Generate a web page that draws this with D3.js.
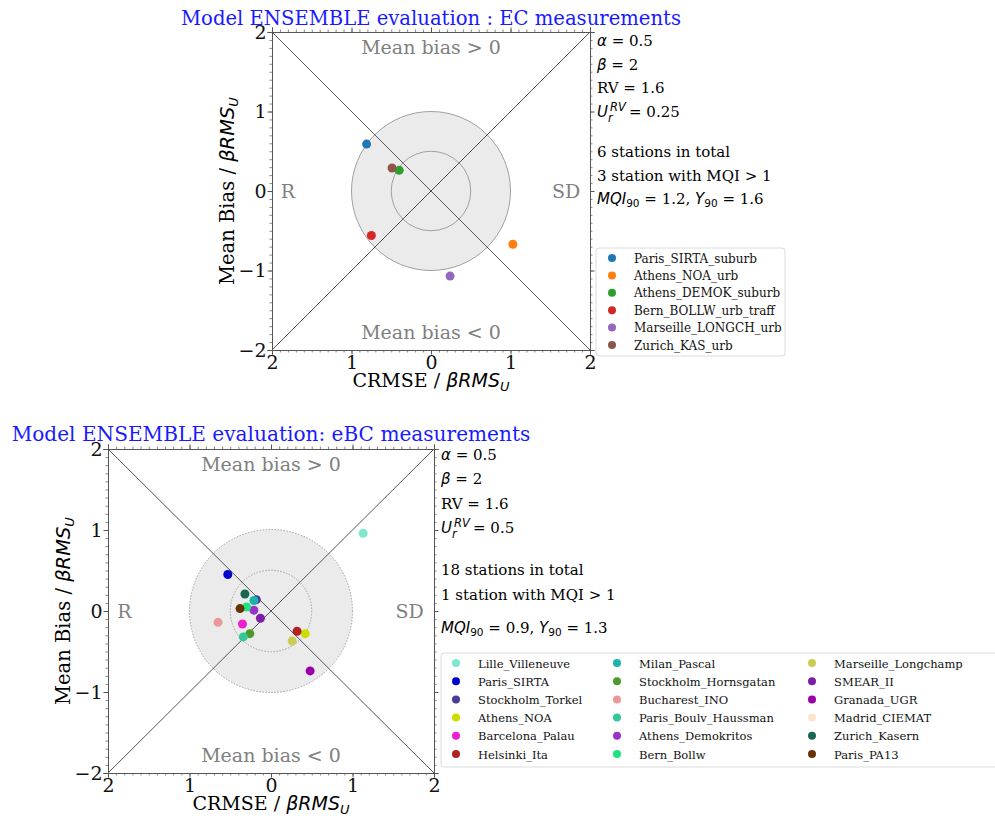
<!DOCTYPE html>
<html lang="en">
<head>
<meta charset="UTF-8">
<script src="https://cdn.jsdelivr.net/npm/d3@7"></script>
<style>
    body { margin: 0; background: #fff; }
    svg { display: block; }
    .serif { font-family: "DejaVu Serif", serif; }
</style>
</head>
<body>
<svg width="995" height="827"></svg>
<script>
// --- EC panel data
var ecStations = ["Paris_SIRTA_suburb", "Athens_NOA_urb", "Athens_DEMOK_suburb",
    "Bern_BOLLW_urb_traff", "Marseille_LONGCH_urb", "Zurich_KAS_urb"];
var ecColors = ["#1f77b4", "#ff7f0e", "#2ca02c", "#d62728", "#9467bd", "#8c564b"];
var ecX = [-0.81, 1.03, -0.40, -0.75, 0.24, -0.49];
var ecY = [0.59, -0.67, 0.26, -0.56, -1.07, 0.29];

// --- eBC panel data (Madrid_CIEMAT not visible in plot)
var ebcStations = ["Lille_Villeneuve", "Paris_SIRTA", "Stockholm_Torkel", "Athens_NOA",
    "Barcelona_Palau", "Helsinki_Ita", "Milan_Pascal", "Stockholm_Hornsgatan",
    "Bucharest_INO", "Paris_Boulv_Haussman", "Athens_Demokritos", "Bern_Bollw",
    "Marseille_Longchamp", "SMEAR_II", "Granada_UGR", "Madrid_CIEMAT",
    "Zurich_Kasern", "Paris_PA13"];
var ebcColors = ["#7fe8cc", "#0000cd", "#483d9b", "#ccdd00", "#ee1ed0", "#b22222",
    "#20b2aa", "#4c9a2a", "#e89a9a", "#33c898", "#9932cc", "#1de381",
    "#cccc55", "#7b1fa8", "#9900aa", "#ffe4cc", "#1a6650", "#663300"];
var ebcX = [1.13, -0.53, -0.18, 0.42, -0.35, 0.32, -0.21, -0.26, -0.65, -0.34,
    -0.21, -0.30, 0.26, -0.13, 0.48, null, -0.32, -0.38];
var ebcY = [0.96, 0.45, 0.14, -0.28, -0.16, -0.25, 0.13, -0.28, -0.14, -0.32,
    0.01, 0.05, -0.37, -0.09, -0.74, null, 0.21, 0.03];

var majorTicks = [-2, -1, 0, 1, 2];
var minorTicks = d3.range(-20, 21).map(function (d) { return d / 10; });

var svg = d3.select("svg");

// text with mixed serif / math pieces
function richText(g, x, y, parts, size) {
    var t = g.append("text").attr("x", x).attr("y", y)
        .attr("font-size", size).attr("class", "serif");
    parts.forEach(function (p) {
        var s = t.append("tspan").text(p.t);
        if (p.m) {
            s.attr("font-family", "DejaVu Sans").attr("font-style", "italic");
        }
        if (p.sub) {
            s.attr("font-family", "DejaVu Sans").attr("font-size", size * 0.7)
                .attr("dy", size * 0.22);
        }
        if (p.back) s.attr("dy", -size * 0.22);
    });
    return t;
}

function drawPanel(cfg) {
    var g = svg.append("g");
    var x = d3.scaleLinear().domain([-2, 2]).range([cfg.left, cfg.right]);
    var y = d3.scaleLinear().domain([-2, 2]).range([cfg.bottom, cfg.top]);

    // title
    g.append("text").attr("class", "serif")
        .attr("x", cfg.titleX).attr("y", cfg.titleY)
        .attr("text-anchor", "middle").attr("font-size", cfg.titleSize)
        .attr("fill", "#1a1aff").text(cfg.title);

    // target circles
    g.append("circle").attr("cx", x(0)).attr("cy", y(0))
        .attr("r", x(1) - x(0)).attr("fill", "#ebebeb")
        .attr("stroke", "#a0a0a0").attr("stroke-width", 1)
        .attr("stroke-dasharray", cfg.dashed ? "1.5,1.5" : null);
    g.append("circle").attr("cx", x(0)).attr("cy", y(0))
        .attr("r", x(0.5) - x(0)).attr("fill", "none")
        .attr("stroke", "#a0a0a0").attr("stroke-width", 1)
        .attr("stroke-dasharray", cfg.dashed ? "1.5,1.5" : null);

    // diagonals
    g.append("line").attr("x1", x(-2)).attr("y1", y(2)).attr("x2", x(2)).attr("y2", y(-2))
        .attr("stroke", "#555").attr("stroke-width", 1);
    g.append("line").attr("x1", x(-2)).attr("y1", y(-2)).attr("x2", x(2)).attr("y2", y(2))
        .attr("stroke", "#555").attr("stroke-width", 1);

    // region labels
    var gray = "#808080";
    g.append("text").attr("class", "serif").attr("x", x(0)).attr("y", y(2) + 22)
        .attr("text-anchor", "middle").attr("font-size", 19).attr("fill", gray).text("Mean bias > 0");
    g.append("text").attr("class", "serif").attr("x", x(0)).attr("y", y(-2) - 11)
        .attr("text-anchor", "middle").attr("font-size", 19).attr("fill", gray).text("Mean bias < 0");
    g.append("text").attr("class", "serif").attr("x", x(-1.8)).attr("y", y(0) + 7)
        .attr("text-anchor", "middle").attr("font-size", 19).attr("fill", gray).text("R");
    g.append("text").attr("class", "serif").attr("x", x(1.7)).attr("y", y(0) + 7)
        .attr("text-anchor", "middle").attr("font-size", 19).attr("fill", gray).text("SD");

    // points
    cfg.xs.forEach(function (v, i) {
        if (v === null) return;
        g.append("circle").attr("cx", x(v)).attr("cy", y(cfg.ys[i]))
            .attr("r", 4.5).attr("fill", cfg.colors[i]);
    });

    // axes with minor ticks
    var fmtAbs = function (d) { return Math.abs(d); };
    var axes = [
        {a: d3.axisBottom(x), t: "translate(0," + cfg.bottom + ")", lab: true, f: fmtAbs},
        {a: d3.axisTop(x), t: "translate(0," + cfg.top + ")"},
        {a: d3.axisLeft(y), t: "translate(" + cfg.left + ",0)", lab: true, f: d3.format("d")},
        {a: d3.axisRight(y), t: "translate(" + cfg.right + ",0)"}
    ];
    axes.forEach(function (ax) {
        var minor = g.append("g").attr("transform", ax.t)
            .call(ax.a.tickValues(minorTicks).tickSize(2.5).tickFormat(""));
        minor.select(".domain").remove();
        minor.selectAll("line").attr("stroke", "#555").attr("stroke-width", 0.7);
        var major = g.append("g").attr("transform", ax.t)
            .call(ax.a.tickValues(majorTicks).tickSize(4.5).tickPadding(1)
                .tickFormat(ax.lab ? ax.f : ""));
        major.select(".domain").attr("stroke", "#555").attr("stroke-width", 1);
        major.selectAll("line").attr("stroke", "#555");
        major.selectAll("text").attr("class", "serif").attr("font-size", 19)
            .attr("fill", "#111").attr("font-family", null);
    });

    // axis labels
    var xl = g.append("text").attr("class", "serif").attr("font-size", 19)
        .attr("text-anchor", "middle")
        .attr("transform", "translate(" + x(0) + "," + (cfg.bottom + 37) + ")");
    xl.append("tspan").text("CRMSE / ");
    xl.append("tspan").attr("font-family", "DejaVu Sans").attr("font-style", "italic").text("βRMS");
    xl.append("tspan").attr("font-family", "DejaVu Sans").attr("font-style", "italic")
        .attr("font-size", 13).attr("dy", 4).text("U");

    var yl = g.append("text").attr("class", "serif").attr("font-size", 19.5)
        .attr("text-anchor", "middle")
        .attr("transform", "translate(" + (cfg.left - 38) + "," + y(0) + ") rotate(-90)");
    yl.append("tspan").text("Mean Bias / ");
    yl.append("tspan").attr("font-family", "DejaVu Sans").attr("font-style", "italic").text("βRMS");
    yl.append("tspan").attr("font-family", "DejaVu Sans").attr("font-style", "italic")
        .attr("font-size", 13).attr("dy", 4).text("U");

    // annotations on the right
    var ax0 = cfg.right + 7, fs = 15;
    var ay = cfg.annY;
    richText(g, ax0, ay[0], [{t: "α", m: 1}, {t: " = 0.5"}], fs);
    richText(g, ax0, ay[1], [{t: "β", m: 1}, {t: " = 2"}], fs);
    richText(g, ax0, ay[2], [{t: "RV = 1.6"}], fs);
    g.append("text").attr("x", ax0).attr("y", ay[3])
        .attr("font-family", "DejaVu Sans").attr("font-style", "italic")
        .attr("font-size", fs).text("U");
    g.append("text").attr("x", ax0 + 13).attr("y", ay[3] - 6)
        .attr("font-family", "DejaVu Sans").attr("font-style", "italic")
        .attr("font-size", 11.5).text("RV");
    g.append("text").attr("x", ax0 + 11).attr("y", ay[3] + 5)
        .attr("font-family", "DejaVu Sans").attr("font-style", "italic")
        .attr("font-size", 11.5).text("r");
    g.append("text").attr("class", "serif").attr("x", ax0 + 32).attr("y", ay[3])
        .attr("font-size", fs).text("= " + cfg.ur);
    richText(g, ax0, ay[4], [{t: cfg.nTotal + " stations in total"}], fs);
    richText(g, ax0, ay[5], [{t: cfg.nMqi}], fs);
    richText(g, ax0, ay[6], [{t: "MQI", m: 1}, {t: "90", sub: 1}, {t: " = " + cfg.mqi + ", ", back: 1},
        {t: "Y", m: 1}, {t: "90", sub: 1}, {t: " = " + cfg.y90, back: 1}], fs);

    // legend
    var L = cfg.legend;
    g.append("rect").attr("x", L.x).attr("y", L.y).attr("width", L.w).attr("height", L.h)
        .attr("rx", 3).attr("fill", "#fff").attr("stroke", "#dcdcdc").attr("stroke-width", 1);
    cfg.names.forEach(function (n, i) {
        var col = Math.floor(i / L.rows), row = i % L.rows;
        var cx = L.x + L.colX[col], cy = L.y + L.first + row * L.step;
        g.append("circle").attr("cx", cx).attr("cy", cy).attr("r", 4)
            .attr("fill", cfg.colors[i]);
        g.append("text").attr("class", "serif").attr("x", cx + 22).attr("y", cy + 4.5)
            .attr("font-size", L.fs).attr("fill", "#111").text(n);
    });
}

drawPanel({
    title: "Model ENSEMBLE evaluation : EC measurements", titleX: 431, titleY: 25, titleSize: 19.6,
    left: 272, right: 590, top: 32, bottom: 350, dashed: false,
    xs: ecX, ys: ecY, colors: ecColors, names: ecStations,
    annY: [46, 70, 93, 117, 157, 181, 204],
    ur: "0.25", nTotal: 6, nMqi: "3 station with MQI > 1", mqi: "1.2", y90: "1.6",
    legend: {x: 596, y: 248, w: 189, h: 108, rows: 6, step: 17.4, first: 10, colX: [16], fs: 12}
});

drawPanel({
    title: "Model ENSEMBLE evaluation: eBC measurements", titleX: 271, titleY: 441, titleSize: 20.1,
    left: 108, right: 434, top: 449, bottom: 773, dashed: true,
    xs: ebcX, ys: ebcY, colors: ebcColors, names: ebcStations,
    annY: [460, 484, 509, 533, 575, 600, 633],
    ur: "0.5", nTotal: 18, nMqi: "1 station with MQI > 1", mqi: "0.9", y90: "1.3",
    legend: {x: 441, y: 653, w: 560, h: 114, rows: 6, step: 18.2, first: 10, colX: [15, 176, 371], fs: 11.5}
});
</script>
</body>
</html>
